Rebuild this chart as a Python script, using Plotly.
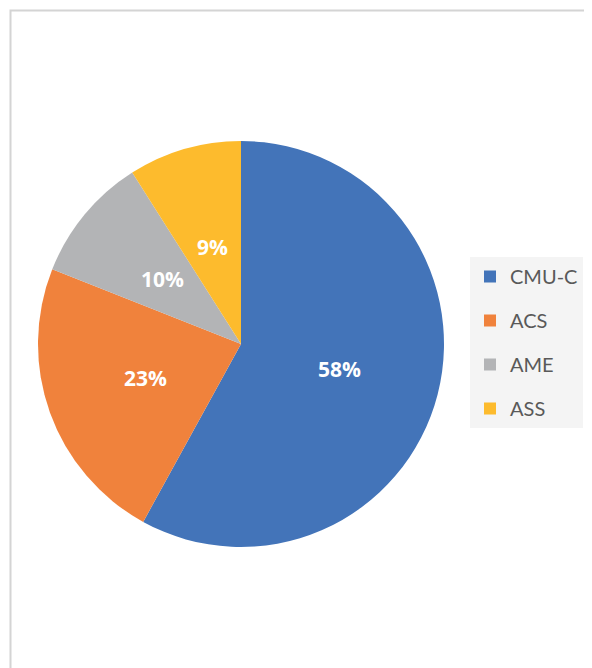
import math
import plotly.graph_objects as go

labels = ["CMU-C", "ACS", "AME", "ASS"]
values = [58, 23, 10, 9]
colors = ["#4374B9", "#F0823C", "#B3B4B6", "#FDBB2D"]

# page body has an 8px margin; figure sized to the visible area
OFF = 8
W, H = 592 - 2 * OFF, 668 - OFF
cx, cy, r = 241 - OFF, 344 - OFF, 203

fig = go.Figure()
fig.add_trace(go.Pie(
    labels=labels,
    values=values,
    sort=False,
    direction="clockwise",
    rotation=0,
    marker=dict(colors=colors, line=dict(width=0)),
    textinfo="none",
    domain=dict(x=[(cx - r) / W, (cx + r) / W], y=[1 - (cy + r) / H, 1 - (cy - r) / H]),
    hoverinfo="label+percent",
    showlegend=False,
))

# percentage labels placed at half radius along each slice's mid-angle
total = sum(values)
cum = 0.0
for v in values:
    mid = (cum + v / 2) / total * 2 * math.pi
    cum += v
    px = cx + 0.5 * r * math.sin(mid)
    py = cy - 0.5 * r * math.cos(mid)
    fig.add_annotation(
        x=px / W, y=1 - py / H, xref="paper", yref="paper",
        text=f"{round(v / total * 100)}%", showarrow=False,
        font=dict(family="Open Sans", size=21, color="white", weight="bold"),
        xanchor="center", yanchor="middle",
    )

# legend proxies
for lab, col in zip(labels, colors):
    fig.add_trace(go.Scatter(
        x=[None], y=[None], mode="markers", name=lab, legendgroup=lab,
        marker=dict(symbol="square", size=12, color=col),
        hoverinfo="skip",
    ))

bx, by = (10.5 - OFF) / W, 1 - (10.5 - OFF) / H
fig.add_shape(type="path", xref="paper", yref="paper",
              path=f"M {bx} -0.02 L {bx} {by} L 1.02 {by}",
              line=dict(color="#D4D4D4", width=2))

fig.update_layout(
    width=W, height=H,
    margin=dict(l=0, r=0, t=0, b=0),
    paper_bgcolor="white",
    plot_bgcolor="white",
    xaxis=dict(visible=False),
    yaxis=dict(visible=False),
    showlegend=True,
    legend=dict(
        x=(470 - OFF) / W, y=1 - (257 - OFF) / H, xanchor="left", yanchor="top",
        bgcolor="#F4F4F4",
        font=dict(family="Lato", size=20, color="#595959"),
        tracegroupgap=15,
        itemclick=False, itemdoubleclick=False,
    ),
)

fig.write_html("out.html")
